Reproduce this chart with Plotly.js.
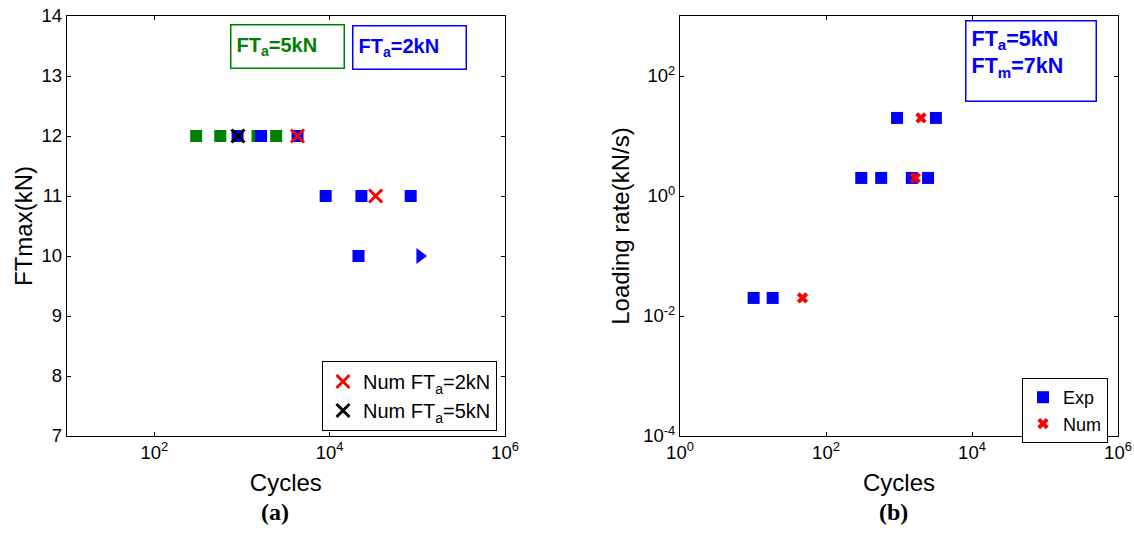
<!DOCTYPE html>
<html>
<head>
<meta charset="utf-8">
<script src="https://cdn.plot.ly/plotly-3.0.1.min.js"></script>
<style>html,body{margin:0;padding:0;background:#fff;}#chart{width:1134px;height:549px;}</style>
</head>
<body>
<div id="chart"></div>
<script>
// ---- Panel (a): FTmax vs cycles ----
const aGreenCycles = [300, 565, 1500, 2450];
const aGreenFT     = [12, 12, 12, 12];
const aBlueCycles  = [890, 1650, 4300, 9000, 23000, 84000, 21300];
const aBlueFT      = [12, 12, 12, 11, 11, 11, 10];
const aRunoutCycles = [107000];
const aRunoutFT     = [10];
const aNum2Cycles  = [4300, 33400];
const aNum2FT      = [12, 11];
const aNum5Cycles  = [900];
const aNum5FT      = [12];
const aXTicks = [100, 10000, 1000000];
const aXTickText = ['10<sup>2</sup>', '10<sup>4</sup>', '10<sup>6</sup>'];
const aYTicks = [7, 8, 9, 10, 11, 12, 13, 14];

// ---- Panel (b): loading rate vs cycles ----
const bExpCycles = [10.2, 18.6, 304, 570, 1500, 2500, 940, 3200];
const bExpRate   = [0.02, 0.02, 2, 2, 2, 2, 20, 20];
const bNumCycles = [47.6, 1675, 2000];
const bNumRate   = [0.02, 2, 20];
const bXTicks = [1, 100, 10000, 1000000];
const bXTickText = ['10<sup>0</sup>', '10<sup>2</sup>', '10<sup>4</sup>', '10<sup>6</sup>'];
const bYTicks = [0.0001, 0.01, 1, 100];
const bYTickText = ['10<sup>-4</sup>', '10<sup>-2</sup>', '10<sup>0</sup>', '10<sup>2</sup>'];

const W = 1134, H = 549;
const px = v => v / W, py = v => 1 - v / H;
const SANS = 'Liberation Sans, Arial, sans-serif';
const GREEN = '#008000', BLUE = '#0000ff', RED = '#ff0000';

const traces = [
  {x: aGreenCycles, y: aGreenFT, xaxis: 'x', yaxis: 'y', mode: 'markers', showlegend: false,
   marker: {symbol: 'square', size: 12, color: GREEN}, name: 'FTa=5kN'},
  {x: aBlueCycles, y: aBlueFT, xaxis: 'x', yaxis: 'y', mode: 'markers', showlegend: false,
   marker: {symbol: 'square', size: 12, color: BLUE}, name: 'FTa=2kN'},
  {x: aRunoutCycles, y: aRunoutFT, xaxis: 'x', yaxis: 'y', mode: 'markers', showlegend: false,
   marker: {symbol: 'triangle-right', size: 14, color: BLUE}, name: 'runout'},
  {x: aNum2Cycles, y: aNum2FT, xaxis: 'x', yaxis: 'y', mode: 'markers', legend: 'legend',
   marker: {symbol: 'x-thin-open', size: 13, line: {color: RED, width: 3}, color: RED},
   name: 'Num FT<sub>a</sub>=2kN'},
  {x: aNum5Cycles, y: aNum5FT, xaxis: 'x', yaxis: 'y', mode: 'markers', legend: 'legend',
   marker: {symbol: 'x-thin-open', size: 13, line: {color: '#000', width: 3}, color: '#000'},
   name: 'Num FT<sub>a</sub>=5kN'},
  {x: bExpCycles, y: bExpRate, xaxis: 'x2', yaxis: 'y2', mode: 'markers', legend: 'legend2',
   marker: {symbol: 'square', size: 12, color: BLUE}, name: 'Exp'},
  {x: bNumCycles, y: bNumRate, xaxis: 'x2', yaxis: 'y2', mode: 'markers', legend: 'legend2',
   marker: {symbol: 'x', size: 10, color: RED, line: {width: 0}}, name: 'Num'}
];

const axBase = {
  showline: true, linecolor: '#000', linewidth: 1, mirror: 'ticks',
  ticks: 'inside', ticklen: 4, tickcolor: '#000', showgrid: false, zeroline: false,
  automargin: false, tickfont: {family: SANS, size: 18.5, color: '#000'}
};
const yDom = [py(436), py(16)];
const titleFont = {family: SANS, size: 24, color: '#000'};

const layout = {
  width: W, height: H,
  margin: {l: 0, r: 0, t: 0, b: 0},
  paper_bgcolor: '#fff', plot_bgcolor: '#fff',
  font: {family: SANS, color: '#000'},
  xaxis: Object.assign({}, axBase, {
    type: 'log', range: [1, 6], domain: [px(66.7), px(505)], anchor: 'y',
    tickmode: 'array', tickvals: aXTicks, ticktext: aXTickText,
    title: {text: 'Cycles', font: titleFont, standoff: 11}
  }),
  yaxis: Object.assign({}, axBase, {
    range: [7, 14], domain: yDom, anchor: 'x',
    tickmode: 'array', tickvals: aYTicks,
    title: {text: 'FTmax(kN)', font: titleFont, standoff: 2}
  }),
  xaxis2: Object.assign({}, axBase, {
    type: 'log', range: [0, 6], domain: [px(680), px(1118)], anchor: 'y2',
    tickmode: 'array', tickvals: bXTicks, ticktext: bXTickText,
    title: {text: 'Cycles', font: titleFont, standoff: 11}
  }),
  yaxis2: Object.assign({}, axBase, {
    type: 'log', range: [-4, 3], domain: yDom, anchor: 'x2',
    tickmode: 'array', tickvals: bYTicks, ticktext: bYTickText,
    title: {text: 'Loading rate(kN/s)', font: titleFont, standoff: 6}
  }),
  legend: {
    x: px(322), xanchor: 'left', y: py(361), yanchor: 'top',
    bgcolor: '#fff', bordercolor: '#000', borderwidth: 1,
    font: {family: SANS, size: 20, color: '#000'}
  },
  legend2: {
    x: px(1022), xanchor: 'left', y: py(378), yanchor: 'top',
    bgcolor: '#fff', bordercolor: '#000', borderwidth: 1,
    font: {family: SANS, size: 18, color: '#000'}
  },
  annotations: [
    {xref: 'paper', yref: 'paper', x: px(230), y: py(24), xanchor: 'left', yanchor: 'top',
     text: '<b>FT<sub>a</sub>=5kN</b>', showarrow: false, align: 'left', valign: 'middle',
     width: 102, height: 32, borderpad: 5, bordercolor: GREEN, borderwidth: 1.5,
     font: {family: SANS, size: 20, color: GREEN}},
    {xref: 'paper', yref: 'paper', x: px(352), y: py(25), xanchor: 'left', yanchor: 'top',
     text: '<b>FT<sub>a</sub>=2kN</b>', showarrow: false, align: 'left', valign: 'middle',
     width: 102, height: 32, borderpad: 5, bordercolor: BLUE, borderwidth: 1.5,
     font: {family: SANS, size: 20, color: BLUE}},
    {xref: 'paper', yref: 'paper', x: px(965), y: py(20), xanchor: 'left', yanchor: 'top',
     text: '<b>FT<sub>a</sub>=5kN</b><br><b>FT<sub>m</sub>=7kN</b>', showarrow: false,
     align: 'left', valign: 'top',
     width: 119, height: 69, borderpad: 5, bordercolor: BLUE, borderwidth: 1.5,
     font: {family: SANS, size: 21.5, color: BLUE}},
    {xref: 'paper', yref: 'paper', x: px(275), y: py(512), xanchor: 'center', yanchor: 'middle',
     text: '<b>(a)</b>', showarrow: false,
     font: {family: 'Liberation Serif, DejaVu Serif, serif', size: 24, color: '#000'}},
    {xref: 'paper', yref: 'paper', x: px(893), y: py(512), xanchor: 'center', yanchor: 'middle',
     text: '<b>(b)</b>', showarrow: false,
     font: {family: 'Liberation Serif, DejaVu Serif, serif', size: 24, color: '#000'}}
  ]
};

Plotly.newPlot('chart', traces, layout, {staticPlot: true, displayModeBar: false});
</script>
</body>
</html>
